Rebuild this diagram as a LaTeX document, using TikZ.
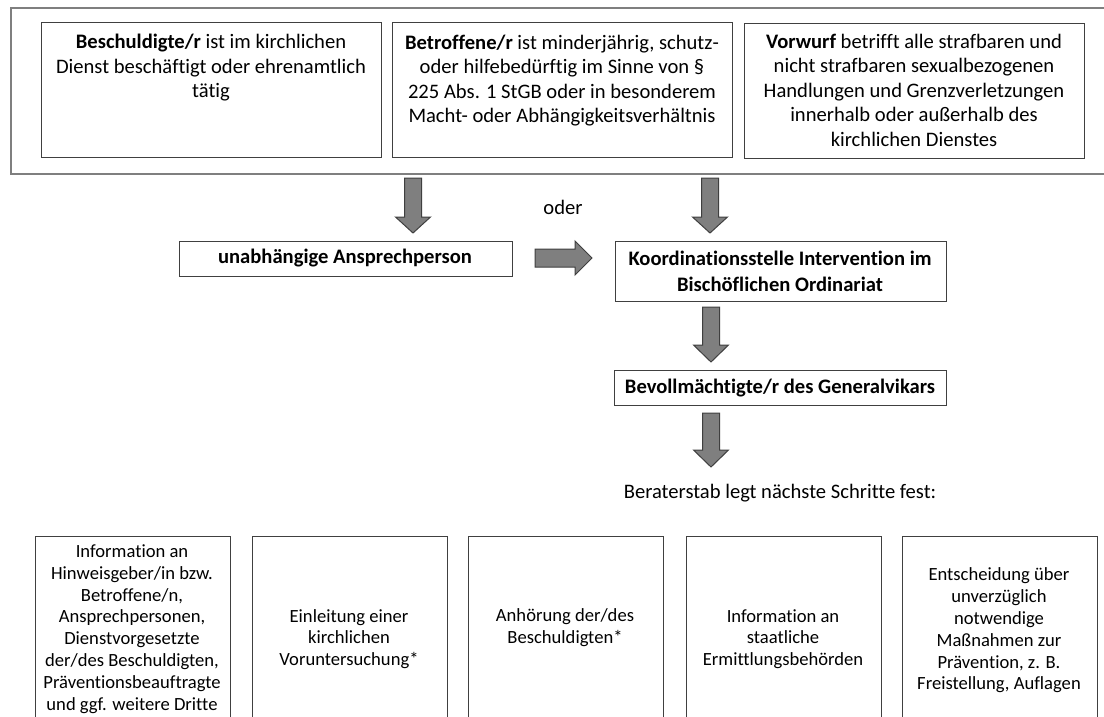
\documentclass[tikz,border=0pt]{standalone}
\usepackage{fontspec}
\setmainfont{Carlito}[Ligatures=NoCommon]
\definecolor{boxc}{HTML}{404040}
\definecolor{outc}{HTML}{7F7F7F}
\definecolor{arrfill}{HTML}{7F7F7F}
\definecolor{arrdraw}{HTML}{3F3F3F}
\newcommand\fatdown[4]{\draw[fat] ({#1-8.5},#2) -- ({#1+8.5},#2) -- ({#1+8.5},#3) -- ({#1+17.5},#3) -- (#1,#4) -- ({#1-17.5},#3) -- ({#1-8.5},#3) -- cycle;}
\begin{document}
\begin{tikzpicture}[x=1pt,y=-1pt,
  box/.style={draw=boxc, line width=1.2pt, fill=white, inner sep=0pt, anchor=north west},
  outerbox/.style={draw=outc, line width=1.6pt, fill=white, inner sep=0pt, anchor=north west},
  txt/.style={align=center, inner sep=0pt, font=\fontsize{20.6}{24.5}\selectfont},
  btxt/.style={align=center, inner sep=0pt, font=\fontsize{20.6}{26}\selectfont\bfseries},
  stxt/.style={align=center, inner sep=0pt, font=\fontsize{18.6}{21.8}\selectfont},
  fat/.style={fill=arrfill, draw=arrdraw, line width=1pt, line join=miter}]
\useasboundingbox (0,0) rectangle (1104,717);
\clip (0,0) rectangle (1104,717);
\fill[white] (0,0) rectangle (1104,717);
% outer frame and top boxes
\node[outerbox, minimum width=1110pt, minimum height=166pt] (outer) at (10,7) {};
\node[box, minimum width=340pt, minimum height=135pt] (b1) at (41,22) {};
\node[box, minimum width=340pt, minimum height=135pt] (b2) at (392,22) {};
\node[box, minimum width=340pt, minimum height=135pt] (b3) at (744,23) {};
\node[txt] (t1) at (211,68) {\textbf{Beschuldigte/r} ist im kirchlichen\\Dienst beschäftigt oder ehrenamtlich\\tätig};
\node[txt] (t2) at (562,80.5) {\textbf{Betroffene/r} ist minderjährig, schutz-\\oder hilfebedürftig im Sinne von §\\225 Abs. 1 StGB oder in besonderem\\Macht- oder Abhängigkeitsverhältnis};
\node[txt] (t3) at (914,90) {\textbf{Vorwurf} betrifft alle strafbaren und\\nicht strafbaren sexualbezogenen\\Handlungen und Grenzverletzungen\\innerhalb oder außerhalb des\\kirchlichen Dienstes};
% middle
\node[txt] (oder) at (563,207) {oder};
\node[box, minimum width=333pt, minimum height=35pt] (ua) at (179,241) {};
\node[btxt] (uat) at (345,258) {unabhängige Ansprechperson};
\node[box, minimum width=331pt, minimum height=60pt] (ko) at (615,241) {};
\node[btxt] (kot) at (780,271) {Koordinationsstelle Intervention im\\Bischöflichen Ordinariat};
\node[box, minimum width=332pt, minimum height=35pt] (bv) at (614,370) {};
\node[btxt] (bvt) at (780,388) {Bevollmächtigte/r des Generalvikars};
\node[txt] (ber) at (780,493) {Beraterstab legt nächste Schritte fest:};
% arrows
\fatdown{413}{178}{217}{233}
\fatdown{710}{178}{217}{233}
\draw[fat] (535,249) -- (575,249) -- (575,241) -- (592,258) -- (575,275) -- (575,267) -- (535,267) -- cycle;
\fatdown{711}{307}{345}{362}
\fatdown{711}{413}{450}{467}
% bottom boxes
\node[box, minimum width=195pt, minimum height=220pt] (r1) at (35,536) {};
\node[box, minimum width=195pt, minimum height=220pt] (r2) at (252,536) {};
\node[box, minimum width=195pt, minimum height=220pt] (r3) at (468,536) {};
\node[box, minimum width=195pt, minimum height=220pt] (r4) at (686,536) {};
\node[box, minimum width=195pt, minimum height=220pt] (r5) at (902,536) {};
\node[stxt] (s1) at (132,629) {Information an\\Hinweisgeber/in bzw.\\Betroffene/n,\\Ansprechpersonen,\\Dienstvorgesetzte\\der/des Beschuldigten,\\Präventionsbeauftragte\\und ggf. weitere Dritte};
\node[stxt] (s2) at (349,639) {Einleitung einer\\kirchlichen\\Voruntersuchung*};
\node[stxt] (s3) at (565,627.5) {Anhörung der/des\\Beschuldigten*};
\node[stxt] (s4) at (783,639) {Information an\\staatliche\\Ermittlungsbehörden};
\node[stxt] (s5) at (999,630.5) {Entscheidung über\\unverzüglich\\notwendige\\Maßnahmen zur\\Prävention, z. B.\\Freistellung, Auflagen};
\end{tikzpicture}
\end{document}
